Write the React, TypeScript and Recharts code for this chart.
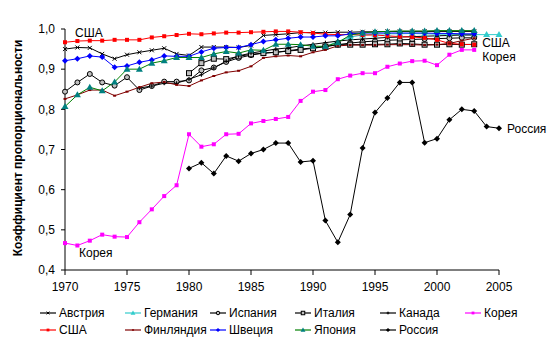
import React from "react"
import { LineChart, Line, XAxis, YAxis, LabelList } from "recharts"

const years = [
  1970, 1971, 1972, 1973, 1974, 1975, 1976, 1977, 1978, 1979, 1980, 1981,
  1982, 1983, 1984, 1985, 1986, 1987, 1988, 1989, 1990, 1991, 1992, 1993,
  1994, 1995, 1996, 1997, 1998, 1999, 2000, 2001, 2002, 2003, 2004, 2005,
]

const austria = [
  0.950, 0.954, 0.953, 0.938, 0.926, 0.936, 0.942, 0.947, 0.952, 0.938, 0.934, 0.955,
  0.955, 0.955, 0.954, 0.959, 0.984, 0.986, 0.988, 0.991, 0.991, 0.991, 0.992, 0.992,
  0.993, 0.993, 0.994, 0.994, 0.994, 0.994, 0.994, 0.994, 0.994, 0.994, null, null,
]
const germany = [
  null, null, null, null, null, null, null, null, null, null, null, null,
  null, null, null, null, null, null, null, null, null, 0.956, 0.969, 0.980,
  0.985, 0.987, 0.988, 0.988, 0.989, 0.988, 0.987, 0.987, 0.986, 0.986, 0.986, 0.986,
]
const spain = [
  0.844, 0.867, 0.888, 0.867, 0.859, 0.880, 0.848, 0.858, 0.869, 0.869, 0.872, 0.897,
  0.904, 0.918, 0.928, 0.935, 0.940, 0.942, 0.946, 0.950, 0.953, 0.957, 0.961, 0.965,
  0.968, 0.970, 0.972, 0.973, 0.974, 0.975, 0.976, 0.977, 0.978, 0.978, null, null,
]
const italy = [
  null, null, null, null, null, null, null, null, null, null, 0.890, 0.915,
  0.926, 0.925, 0.932, 0.937, 0.940, 0.942, 0.945, 0.948, 0.952, 0.956, 0.961, 0.961,
  0.961, 0.962, 0.962, 0.964, 0.963, 0.961, 0.961, 0.962, 0.961, 0.962, null, null,
]
const canada = [
  null, null, null, null, null, null, 0.853, 0.858, 0.865, 0.865, 0.875, 0.886,
  0.903, 0.920, 0.933, 0.940, 0.945, 0.950, 0.953, 0.958, 0.962, 0.966, 0.970, 0.973,
  0.975, 0.977, 0.979, 0.980, 0.981, 0.982, 0.983, 0.984, 0.985, 0.985, null, null,
]
const korea = [
  0.467, 0.461, 0.473, 0.488, 0.483, 0.482, 0.519, 0.551, 0.584, 0.611, 0.738, 0.707,
  0.713, 0.738, 0.739, 0.765, 0.771, 0.776, 0.781, 0.821, 0.844, 0.848, 0.875, 0.884,
  0.890, 0.890, 0.906, 0.914, 0.920, 0.921, 0.910, 0.936, 0.948, 0.948, null, null,
]
const usa = [
  0.967, 0.970, 0.971, 0.971, 0.973, 0.973, 0.973, 0.979, 0.982, 0.985, 0.988, 0.987,
  0.989, 0.991, 0.991, 0.992, 0.993, 0.994, 0.994, 0.992, 0.990, 0.987, 0.986, 0.986,
  0.985, 0.985, 0.983, 0.981, 0.980, 0.978, 0.973, 0.964, 0.962, 0.961, null, null,
]
const finland = [
  0.826, 0.836, 0.848, 0.848, 0.834, 0.844, 0.855, 0.865, 0.868, 0.861, 0.858, 0.872,
  0.883, 0.892, 0.896, 0.907, 0.928, 0.932, 0.934, 0.932, 0.942, 0.948, 0.958, 0.960,
  0.960, 0.960, 0.961, 0.961, 0.961, 0.960, 0.961, 0.964, 0.971, 0.977, null, null,
]
const sweden = [
  0.921, 0.926, 0.933, 0.930, 0.905, 0.908, 0.917, 0.923, 0.933, 0.932, 0.932, 0.943,
  0.952, 0.954, 0.954, 0.961, 0.969, 0.973, 0.977, 0.980, 0.980, 0.983, 0.983, 0.988,
  0.990, 0.990, 0.990, 0.990, 0.990, 0.990, 0.989, 0.989, 0.988, 0.988, null, null,
]
const japan = [
  0.807, 0.836, 0.855, 0.846, 0.868, 0.900, 0.900, 0.915, 0.921, 0.929, 0.929, 0.929,
  0.938, 0.944, 0.940, 0.948, 0.947, 0.962, 0.962, 0.961, 0.957, 0.957, 0.966, 0.985,
  0.990, 0.993, 0.994, 0.995, 0.995, 0.995, 0.996, 0.996, 0.996, 0.996, null, null,
]
const russia = [
  null, null, null, null, null, null, null, null, null, null, 0.653, 0.667,
  0.640, 0.684, 0.671, 0.690, 0.700, 0.716, 0.716, 0.669, 0.672, 0.523, 0.469, 0.538,
  0.704, 0.792, 0.828, 0.867, 0.867, 0.717, 0.727, 0.774, 0.800, 0.796, 0.757, 0.753,
]

const xTicks = [1970, 1975, 1980, 1985, 1990, 1995, 2000, 2005]
const yTicks = [0.4, 0.5, 0.6, 0.7, 0.8, 0.9, 1.0]

const data = years.map((year, i) => ({
  year,
  austria: austria[i],
  germany: germany[i],
  spain: spain[i],
  italy: italy[i],
  canada: canada[i],
  korea: korea[i],
  usa: usa[i],
  finland: finland[i],
  sweden: sweden[i],
  japan: japan[i],
  russia: russia[i],
}))

const FONT = '"Liberation Sans", Arial, sans-serif'

// small marker drawn at (x, y), s scales it
const marker = (shape: string, color: string, x: number, y: number, key?: any, s = 1) => {
  switch (shape) {
    case "square":
      return <rect key={key} x={x - 2 * s} y={y - 2 * s} width={4 * s} height={4 * s} fill={color} />
    case "diamond":
      return <polygon key={key} points={`${x},${y - 3 * s} ${x + 3 * s},${y} ${x},${y + 3 * s} ${x - 3 * s},${y}`} fill={color} />
    case "triangle":
      return <polygon key={key} points={`${x},${y - 3.5 * s} ${x + 3.5 * s},${y + 2.5 * s} ${x - 3.5 * s},${y + 2.5 * s}`} fill={color} />
    case "circle":
      return <circle key={key} cx={x} cy={y} r={2.5 * s} fill="#c0c0c0" stroke="#000" strokeWidth={1} />
    case "box":
      return <rect key={key} x={x - 2.5 * s} y={y - 2.5 * s} width={5 * s} height={5 * s} fill="#c0c0c0" stroke="#000" strokeWidth={1} />
    case "cross":
      return (
        <g key={key} stroke={color} strokeWidth={1}>
          <line x1={x - 2 * s} y1={y - 2 * s} x2={x + 2 * s} y2={y + 2 * s} />
          <line x1={x - 2 * s} y1={y + 2 * s} x2={x + 2 * s} y2={y - 2 * s} />
        </g>
      )
    case "tick":
      return (
        <g key={key} stroke={color} strokeWidth={1}>
          <line x1={x} y1={y - 2 * s} x2={x} y2={y + 2 * s} />
          <line x1={x - 2 * s} y1={y} x2={x + 2 * s} y2={y} />
        </g>
      )
    default:
      return <rect key={key} x={x - 1.5 * s} y={y - 1 * s} width={3 * s} height={2 * s} fill={color} />
  }
}

const makeDot = (shape: string, color: string) => (p: any) => {
  if (p.cx == null || p.cy == null || p.value == null) return <g key={p.index} />
  return marker(shape, color, p.cx, p.cy, p.index)
}

const pointLabel = (text: string, idx: number, dx: number, dy: number) => (p: any) =>
  p.index === idx ? (
    <text key={`${text}-${idx}`} x={p.x + dx} y={p.y + dy} fontSize={12} fontFamily={FONT} fill="#000" dominantBaseline="central">
      {text}
    </text>
  ) : null

const series = [
  { key: "austria", name: "Австрия", color: "#000000", markColor: "#000000", shape: "cross" },
  { key: "germany", name: "Германия", color: "#33CCCC", markColor: "#33CCCC", shape: "triangle" },
  { key: "spain", name: "Испания", color: "#000000", markColor: "#000000", shape: "circle" },
  { key: "italy", name: "Италия", color: "#000000", markColor: "#000000", shape: "box" },
  { key: "canada", name: "Канада", color: "#000000", markColor: "#000000", shape: "tick" },
  { key: "korea", name: "Корея", color: "#FF00FF", markColor: "#FF00FF", shape: "square" },
  { key: "usa", name: "США", color: "#FF0000", markColor: "#FF0000", shape: "square" },
  { key: "finland", name: "Финляндия", color: "#800000", markColor: "#800000", shape: "dash" },
  { key: "sweden", name: "Швеция", color: "#0000FF", markColor: "#0000FF", shape: "diamond" },
  { key: "japan", name: "Япония", color: "#008000", markColor: "#008080", shape: "triangle" },
  { key: "russia", name: "Россия", color: "#000000", markColor: "#000000", shape: "diamond" },
]

const Legend = () => (
  <div style={{ position: "absolute", left: 0, top: 305, width: 556 }}>
    {series.map((s, i) => {
      const col = i < 6 ? i : i - 6
      const row = i < 6 ? 0 : 1
      return (
        <div
          key={s.key}
          style={{ position: "absolute", left: 40 + col * 85, top: row * 17, display: "flex", alignItems: "center", height: 16, whiteSpace: "nowrap" }}
        >
          <svg width={17} height={10} style={{ marginRight: 2 }}>
            <line x1={0} y1={5} x2={16} y2={5} stroke={s.color} strokeWidth={1.2} />
            {marker(s.shape, s.markColor, 8, 5, undefined, 0.7)}
          </svg>
          <span style={{ fontSize: 12, fontFamily: FONT, color: "#000" }}>{s.name}</span>
        </div>
      )
    })}
  </div>
)

export default function App() {
  return (
    <div style={{ position: "absolute", left: 0, top: 0, width: 556, height: 340, background: "#fff", fontFamily: FONT }}>
      <LineChart width={556} height={340} data={data} margin={{ top: 29, right: 57, bottom: 50, left: 0 }}>
        <XAxis
          dataKey="year"
          type="number"
          domain={[1970, 2005]}
          ticks={xTicks}
          axisLine={{ stroke: "#000" }}
          tickLine={{ stroke: "#000" }}
          tick={{ fill: "#000", fontSize: 12, fontFamily: FONT }}
          tickSize={5}
          tickMargin={7}
          height={20}
        />
        <YAxis
          type="number"
          domain={[0.4, 1]}
          ticks={yTicks}
          tickFormatter={(v: number) => v.toFixed(1).replace(".", ",")}
          axisLine={{ stroke: "#000" }}
          tickLine={{ stroke: "#000" }}
          tick={{ fill: "#000", fontSize: 12, fontFamily: FONT }}
          tickSize={4}
          tickMargin={6}
          width={65}
        />
        {series.map((s) => (
          <Line
            key={s.key}
            dataKey={s.key}
            name={s.name}
            stroke={s.color}
            strokeWidth={1}
            dot={makeDot(s.shape, s.markColor)}
            activeDot={false}
            connectNulls={false}
            isAnimationActive={false}
          >
            {s.key === "usa" && <LabelList dataKey="usa" content={pointLabel("США", 0, 10, -9)} />}
            {s.key === "usa" && <LabelList dataKey="usa" content={pointLabel("США", 33, 8, -2)} />}
            {s.key === "korea" && <LabelList dataKey="korea" content={pointLabel("Корея", 0, 14, 10)} />}
            {s.key === "korea" && <LabelList dataKey="korea" content={pointLabel("Корея", 33, 8, 7)} />}
            {s.key === "russia" && <LabelList dataKey="russia" content={pointLabel("Россия", 35, 8, 1)} />}
          </Line>
        ))}
      </LineChart>
      <div
        style={{
          position: "absolute",
          left: 18,
          top: 148,
          transform: "translate(-50%, -50%) rotate(-90deg)",
          whiteSpace: "nowrap",
          fontSize: 12,
          fontWeight: "bold",
          fontFamily: FONT,
          color: "#000",
        }}
      >
        Коэффициент пропорциональности
      </div>
      <Legend />
    </div>
  )
}
